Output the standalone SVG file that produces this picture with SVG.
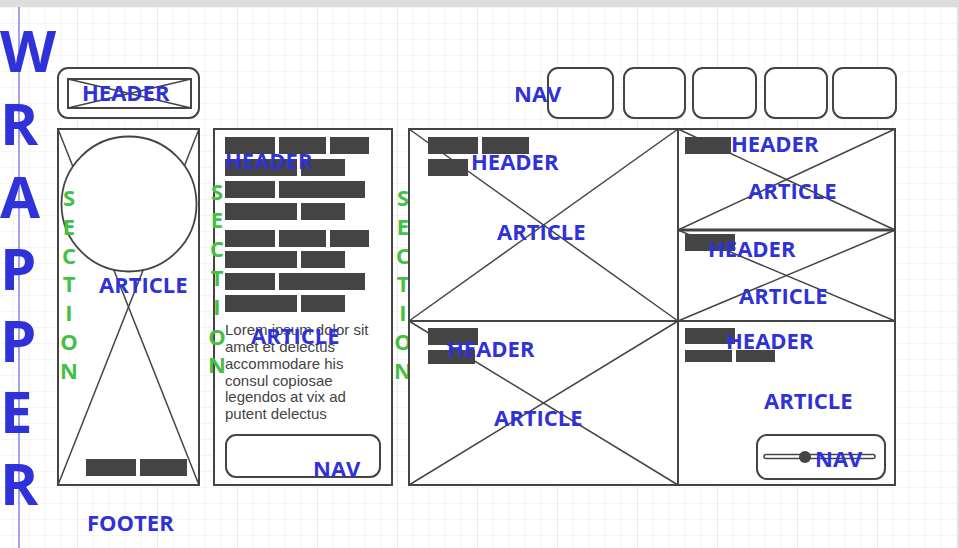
<svg xmlns="http://www.w3.org/2000/svg" width="959" height="548" viewBox="0 0 959 548">
<style>
.lbl{font-family:"Open Sans","Noto Sans","DejaVu Sans",sans-serif;font-weight:bold;font-size:22px;fill:#2f31d9}
.big{font-family:"Open Sans","Noto Sans","DejaVu Sans",sans-serif;font-weight:bold;font-size:58px;fill:#2f31d9}
.sec{font-family:"Open Sans","Noto Sans","DejaVu Sans",sans-serif;font-weight:bold;font-size:22px;fill:#44c044;text-anchor:middle}
.box{fill:#fff;stroke:#444;stroke-width:2}
.thin{stroke:#444;stroke-width:1.5;fill:none}
.bar{fill:#444}
.lorem{font-family:"Liberation Sans",Arial,sans-serif;font-size:15px;fill:#444}
</style>
<defs>
<pattern id="grid" x="13" y="7" width="16" height="16" patternUnits="userSpaceOnUse">
<path d="M0 0V16M0 0H16" stroke="#ececec" stroke-width="1" fill="none"/>
</pattern>
<pattern id="gridM" x="-3" y="7" width="80" height="548" patternUnits="userSpaceOnUse">
<path d="M0 0V548" stroke="#e2e2e2" stroke-width="1" fill="none"/>
</pattern>
</defs>
<rect x="0" y="0" width="959" height="548" fill="#fff"/>
<rect x="0" y="7" width="959" height="541" fill="url(#grid)"/>
<rect x="0" y="7" width="959" height="541" fill="url(#gridM)"/>
<rect x="0" y="0" width="959" height="7" fill="#dddddd"/>
<rect x="957" y="7" width="2" height="541" fill="#e0e0e0"/>

<g id="wrapper">
<line x1="19" y1="7" x2="19" y2="548" stroke="#4444dd" stroke-width="1"/>
<text class="big" x="0" y="72">W</text>
<text class="big" x="0" y="145">R</text>
<text class="big" x="0" y="218">A</text>
<text class="big" x="0" y="290">P</text>
<text class="big" x="0" y="362">P</text>
<text class="big" x="0" y="433">E</text>
<text class="big" x="0" y="505">R</text>
</g>

<g id="connectors"/>

<g id="header-top">
<rect class="box" x="58" y="68" width="141" height="50" rx="10"/>
<rect class="box" x="68" y="79" width="123" height="29"/>
<line class="thin" x1="68" y1="79" x2="191" y2="108"/>
<line class="thin" x1="68" y1="108" x2="191" y2="79"/>
<text class="lbl" x="82" y="101">HEADER</text>
</g>

<g id="nav-top">
<rect class="box" x="548" y="68" width="65" height="50" rx="10"/>
<rect class="box" x="624" y="68" width="61" height="50" rx="10"/>
<rect class="box" x="693" y="68" width="63" height="50" rx="10"/>
<rect class="box" x="765" y="68" width="62" height="50" rx="10"/>
<rect class="box" x="833" y="68" width="63" height="50" rx="10"/>
<text class="lbl" x="514" y="102">NAV</text>
</g>

<g id="section-1">
<rect class="box" x="58" y="129" width="141" height="356"/>
<line class="thin" x1="58" y1="129" x2="199" y2="485"/>
<line class="thin" x1="199" y1="129" x2="58" y2="485"/>
<circle cx="129" cy="204" r="67.5" fill="#fff" stroke="#444" stroke-width="1.8"/>
<rect class="bar" x="86" y="459" width="50" height="17"/>
<rect class="bar" x="140" y="459" width="47" height="17"/>
<text class="lbl" x="99" y="293">ARTICLE</text>
<g>
<text class="sec" x="69" y="206">S</text>
<text class="sec" x="69" y="235">E</text>
<text class="sec" x="69" y="264">C</text>
<text class="sec" x="69" y="292">T</text>
<text class="sec" x="69" y="321">I</text>
<text class="sec" x="69" y="350">O</text>
<text class="sec" x="69" y="379">N</text>
</g>
</g>

<g id="section-2">
<rect class="box" x="214" y="129" width="178" height="356"/>
<rect class="bar" x="225" y="137" width="50" height="17"/>
<rect class="bar" x="279" y="137" width="47" height="17"/>
<rect class="bar" x="330" y="137" width="39" height="17"/>
<rect class="bar" x="225" y="159" width="72" height="17"/>
<rect class="bar" x="301" y="159" width="44" height="17"/>
<rect class="bar" x="225" y="181" width="50" height="17"/>
<rect class="bar" x="279" y="181" width="86" height="17"/>
<rect class="bar" x="225" y="203" width="72" height="17"/>
<rect class="bar" x="301" y="203" width="44" height="17"/>
<rect class="bar" x="225" y="230" width="50" height="17"/>
<rect class="bar" x="279" y="230" width="47" height="17"/>
<rect class="bar" x="330" y="230" width="39" height="17"/>
<rect class="bar" x="225" y="251" width="72" height="17"/>
<rect class="bar" x="301" y="251" width="44" height="17"/>
<rect class="bar" x="225" y="273" width="50" height="17"/>
<rect class="bar" x="279" y="273" width="86" height="17"/>
<rect class="bar" x="225" y="295" width="72" height="17"/>
<rect class="bar" x="301" y="295" width="44" height="17"/>
<text class="lbl" x="225" y="169">HEADER</text>
<text class="lorem" x="225">
<tspan x="225" y="335">Lorem ipsum dolor sit</tspan>
<tspan x="225" y="352">amet et delectus</tspan>
<tspan x="225" y="368.5">accommodare his</tspan>
<tspan x="225" y="385.5">consul copiosae</tspan>
<tspan x="225" y="402">legendos at vix ad</tspan>
<tspan x="225" y="419">putent delectus</tspan>
</text>
<text class="lbl" x="251" y="344">ARTICLE</text>
<rect class="box" x="226" y="435" width="154" height="42" rx="10"/>
<text class="lbl" x="313" y="477">NAV</text>
<g>
<text class="sec" x="217" y="200">S</text>
<text class="sec" x="217" y="228">E</text>
<text class="sec" x="217" y="257">C</text>
<text class="sec" x="217" y="286">T</text>
<text class="sec" x="217" y="315">I</text>
<text class="sec" x="217" y="345">O</text>
<text class="sec" x="217" y="373">N</text>
</g>
</g>

<g id="section-3">
<g>
<text class="sec" x="403" y="206">S</text>
<text class="sec" x="403" y="235">E</text>
<text class="sec" x="403" y="264">C</text>
<text class="sec" x="403" y="292">T</text>
<text class="sec" x="403" y="321">I</text>
<text class="sec" x="403" y="350">O</text>
<text class="sec" x="403" y="379">N</text>
</g>
<rect class="box" x="409" y="129" width="486" height="356"/>
<g id="article-1">
<line class="thin" x1="409" y1="129" x2="678" y2="321"/>
<line class="thin" x1="409" y1="321" x2="678" y2="129"/>
<rect class="bar" x="428" y="137" width="50" height="17"/>
<rect class="bar" x="482" y="137" width="47" height="17"/>
<rect class="bar" x="428" y="159" width="40" height="17"/>
<text class="lbl" x="471" y="170">HEADER</text>
<text class="lbl" x="497" y="240">ARTICLE</text>
</g>
<g id="article-2">
<line class="thin" x1="409" y1="321" x2="678" y2="485"/>
<line class="thin" x1="409" y1="485" x2="678" y2="321"/>
<rect class="bar" x="428" y="328" width="50" height="17"/>
<rect class="bar" x="428" y="350" width="47" height="14"/>
<text class="lbl" x="447" y="357">HEADER</text>
<text class="lbl" x="494" y="426">ARTICLE</text>
</g>
<g id="article-3">
<line class="thin" x1="678" y1="129" x2="895" y2="230"/>
<line class="thin" x1="678" y1="230" x2="895" y2="129"/>
<rect class="bar" x="685" y="137" width="46" height="17"/>
<text class="lbl" x="731" y="152">HEADER</text>
<text class="lbl" x="748" y="199">ARTICLE</text>
</g>
<g id="article-4">
<line class="thin" x1="678" y1="230" x2="895" y2="321"/>
<line class="thin" x1="678" y1="321" x2="895" y2="230"/>
<rect class="bar" x="685" y="234" width="50" height="17"/>
<text class="lbl" x="708" y="257">HEADER</text>
<text class="lbl" x="739" y="304">ARTICLE</text>
</g>
<line x1="678" y1="129" x2="678" y2="485" stroke="#444" stroke-width="2"/>
<line x1="409" y1="321" x2="895" y2="321" stroke="#444" stroke-width="2"/>
<line x1="678" y1="230" x2="895" y2="230" stroke="#444" stroke-width="3"/>
<g id="article-5">
<rect class="bar" x="685" y="328" width="50" height="16"/>
<rect class="bar" x="685" y="350" width="47" height="12"/>
<rect class="bar" x="736" y="350" width="39" height="12"/>
<text class="lbl" x="726" y="349">HEADER</text>
<text class="lbl" x="764" y="409">ARTICLE</text>
<rect class="box" x="757" y="435" width="128" height="44" rx="10"/>
<rect x="764" y="454.5" width="111" height="4" rx="2" fill="#fff" stroke="#444" stroke-width="1.5"/>
<circle cx="805" cy="457" r="6" fill="#444"/>
<text class="lbl" x="815" y="467">NAV</text>
</g>
</g>

<g id="footer">
<text class="lbl" x="87" y="531">FOOTER</text>
</g>
</svg>
